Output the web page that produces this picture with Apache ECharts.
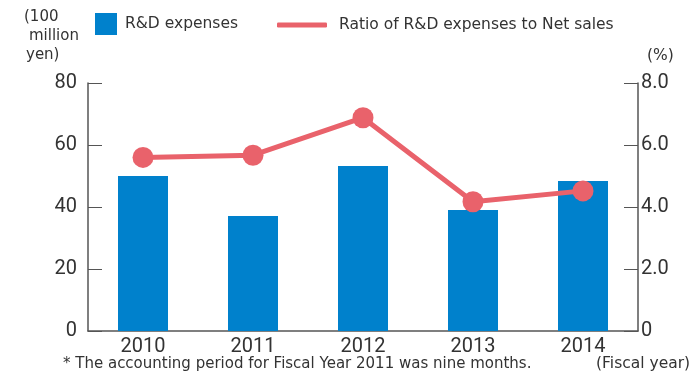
<!DOCTYPE html>
<html>
<head>
<meta charset="utf-8">
<script src="https://cdn.jsdelivr.net/npm/echarts@6/dist/echarts.min.js"></script>
<style>
  html, body { margin: 0; padding: 0; background: #fff; }
  #chart { width: 690px; height: 376px; }
</style>
</head>
<body>
<div id="chart"></div>
<script>
// Fiscal years on the category axis
const years = ['2010', '2011', '2012', '2013', '2014'];
// R&D expenses, 100 million yen
const rdExpenses = [50.0, 37.1, 53.2, 39.0, 48.4];
// Ratio of R&D expenses to net sales, %
const rdRatio = [5.6, 5.67, 6.88, 4.17, 4.52];
// Axis tick values
const leftTicks = [0, 20, 40, 60, 80];
const rightTicks = [0, 2, 4, 6, 8];

const BLUE = '#0081cc';
const RED = '#e9626b';
const AXIS = '#555';
const TXT = '#333';
const NUM_FONT = 'Roboto';
const TXT_FONT = 'DejaVu Sans';

const chart = echarts.init(document.getElementById('chart'));
chart.setOption({
  animation: false,
  grid: { left: 88, right: 52, top: 83, bottom: 45 },
  legend: [
    {
      data: ['R&D expenses'],
      left: 95, top: 13, padding: 0,
      icon: 'rect', itemWidth: 22, itemHeight: 22,
      textStyle: { fontFamily: TXT_FONT, fontSize: 15.5, color: TXT, padding: [2, 0, 0, 3] }
    },
    {
      data: ['Ratio of R&D expenses to Net sales'],
      left: 277, top: 17, padding: 0,
      icon: 'roundRect', itemWidth: 50, itemHeight: 5,
      textStyle: { fontFamily: TXT_FONT, fontSize: 15.5, color: TXT, padding: [0, 0, 0, 7] }
    }
  ],
  xAxis: {
    type: 'category',
    data: years,
    boundaryGap: true,
    axisLine: { lineStyle: { color: AXIS, width: 1.5 } },
    axisTick: { inside: true, length: 6, lineStyle: { color: AXIS } },
    axisLabel: { fontFamily: NUM_FONT, fontSize: 20, color: TXT, margin: 6 }
  },
  yAxis: [
    {
      type: 'value', min: 0, max: leftTicks[leftTicks.length - 1], interval: leftTicks[1] - leftTicks[0],
      axisLine: { show: true, lineStyle: { color: AXIS, width: 1.5 } },
      axisTick: { show: true, inside: true, length: 14, lineStyle: { color: AXIS } },
      axisLabel: { fontFamily: NUM_FONT, fontSize: 20, color: TXT, margin: 11 },
      splitLine: { show: false }
    },
    {
      type: 'value', min: 0, max: rightTicks[rightTicks.length - 1], interval: rightTicks[1] - rightTicks[0],
      position: 'right',
      axisLine: { show: true, lineStyle: { color: AXIS, width: 1.5 } },
      axisTick: { show: true, inside: true, length: 14, lineStyle: { color: AXIS } },
      axisLabel: {
        fontFamily: NUM_FONT, fontSize: 20, color: TXT, margin: 3,
        formatter: v => (v === 0 ? '0' : v.toFixed(1))
      },
      splitLine: { show: false }
    }
  ],
  series: [
    {
      name: 'R&D expenses',
      type: 'bar',
      data: rdExpenses,
      barWidth: 50,
      itemStyle: { color: BLUE },
      yAxisIndex: 0
    },
    {
      name: 'Ratio of R&D expenses to Net sales',
      type: 'line',
      data: rdRatio,
      yAxisIndex: 1,
      symbol: 'circle',
      symbolSize: 21,
      lineStyle: { color: RED, width: 5 },
      itemStyle: { color: RED }
    }
  ],
  graphic: [
    { type: 'text', left: 24, top: 10, style: { text: '(100', font: '15px "DejaVu Sans"', fill: TXT } },
    { type: 'text', left: 29, top: 29, style: { text: 'million', font: '15px "DejaVu Sans"', fill: TXT } },
    { type: 'text', left: 26, top: 48, style: { text: 'yen)', font: '15px "DejaVu Sans"', fill: TXT } },
    { type: 'text', left: 647, top: 48, style: { text: '(%)', font: '15.5px "DejaVu Sans"', fill: TXT } },
    { type: 'text', left: 596, top: 356, style: { text: '(Fiscal year)', font: '15.5px "DejaVu Sans"', fill: TXT } },
    { type: 'text', left: 63, top: 357, style: { text: '* The accounting period for Fiscal Year 2011 was nine months.', font: '15px "DejaVu Sans"', fill: TXT } }
  ]
});
</script>
</body>
</html>
